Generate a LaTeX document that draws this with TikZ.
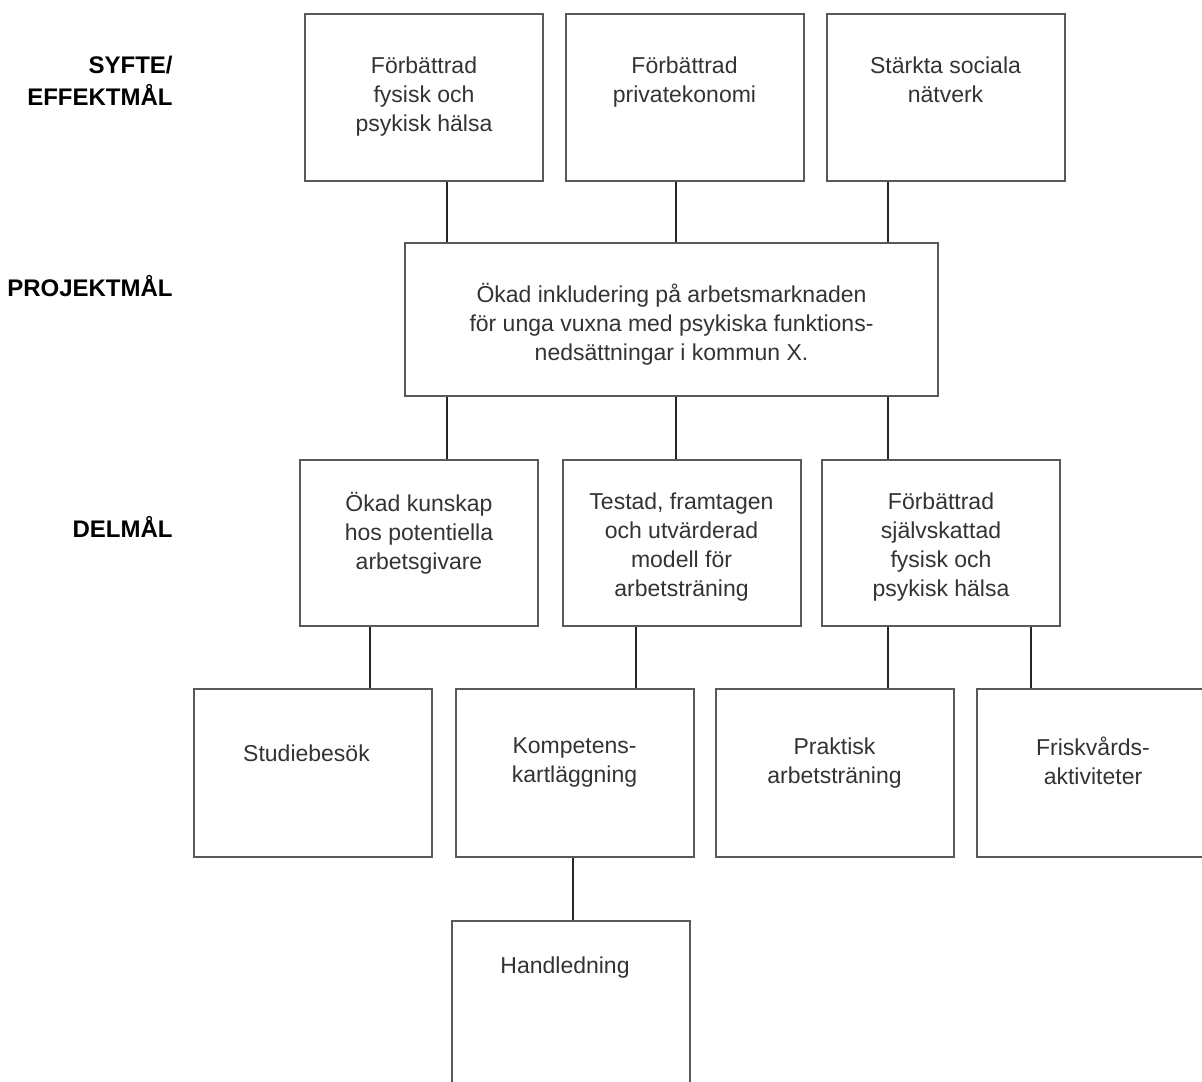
\documentclass[tikz,border=0pt]{standalone}
\usepackage{fontspec}
\setmainfont{Liberation Sans}

\tikzset{
    goalbox/.style={draw=black!65, line width=1pt, minimum width=119pt, minimum height=83.5pt, inner sep=0pt},
    boxtext/.style={anchor=north, align=center, inner sep=0pt, text=black!80, font=\fontsize{11.5}{14.5}\selectfont},
    levellabel/.style={anchor=east, align=right, inner sep=0pt, font=\bfseries\fontsize{12}{16}\selectfont},
    link/.style={draw=black!85, line width=1.4pt}
}

\begin{document}
\begin{tikzpicture}[x=0.5pt, y=0.5pt]
        \useasboundingbox (0,0) rectangle (1202,1081);
        \clip (0,0) rectangle (1202,1081);

        % Level labels
        \node[levellabel] (lvlsyfte) at (173,1000) {SYFTE/\\EFFEKTMÅL};
        \node[levellabel] (lvlprojekt) at (173,795) {PROJEKTMÅL};
        \node[levellabel] (lvldelmal) at (173,554) {DELMÅL};

        % Effect goals
        \node[goalbox, label={[boxtext, yshift=-21.5pt]north:Förbättrad\\fysisk och\\psykisk hälsa}] (eff1) at (424,983.5) {};
        \node[goalbox, label={[boxtext, yshift=-21.5pt]north:Förbättrad\\privatekonomi}] (eff2) at (684.5,983.5) {};
        \node[goalbox, label={[boxtext, yshift=-21.5pt]north:Stärkta sociala\\nätverk}] (eff3) at (945.5,983.5) {};

        % Project goal
        \node[goalbox, minimum width=266.5pt, minimum height=76.5pt, label={[boxtext, yshift=-20.5pt]north:Ökad inkludering på arbetsmarknaden\\för unga vuxna med psykiska funktions-\\nedsättningar i kommun X.}] (projekt) at (671.5,761.5) {};

        % Sub-goals
        \node[goalbox, minimum height=83pt, label={[boxtext, yshift=-16.5pt]north:Ökad kunskap\\hos potentiella\\arbetsgivare}] (del1) at (419,538) {};
        \node[goalbox, minimum height=83pt, label={[boxtext, yshift=-16.5pt]north:{Testad, framtagen\\och utvärderad\\modell för\\arbetsträning}}] (del2) at (681.5,538) {};
        \node[goalbox, minimum height=83pt, label={[boxtext, yshift=-16.5pt]north:Förbättrad\\självskattad\\fysisk och\\psykisk hälsa}] (del3) at (941,538) {};

        % Activities
        \node[goalbox, minimum height=84pt, label={[boxtext, yshift=-28pt, xshift=-3pt]north:Studiebesök}] (stud) at (312.5,308) {};
        \node[goalbox, minimum height=84pt, label={[boxtext, yshift=-24.5pt]north:Kompetens-\\kartläggning}] (komp) at (574.5,308) {};
        \node[goalbox, minimum height=84pt, label={[boxtext, yshift=-24.5pt]north:Praktisk\\arbetsträning}] (prakt) at (834.5,308) {};
        \node[goalbox, minimum width=116pt, minimum height=84pt, label={[boxtext, yshift=-24.5pt]north:Friskvårds-\\aktiviteter}] (frisk) at (1093,308) {};
        \node[goalbox, minimum height=84pt, label={[boxtext, yshift=-18pt, xshift=-3pt]north:Handledning}] (handl) at (571,76) {};

        % Effect goals to project goal
        \draw[link] ([xshift=11.5pt]eff1.south) -- ([xshift=11.5pt]eff1.south |- projekt.north);
        \draw[link] ([xshift=-4.25pt]eff2.south) -- ([xshift=-4.25pt]eff2.south |- projekt.north);
        \draw[link] ([xshift=-28.75pt]eff3.south) -- ([xshift=-28.75pt]eff3.south |- projekt.north);

        % Project goal to sub-goals
        \draw[link] ([xshift=14pt]del1.north |- projekt.south) -- ([xshift=14pt]del1.north);
        \draw[link] ([xshift=-2.75pt]del2.north |- projekt.south) -- ([xshift=-2.75pt]del2.north);
        \draw[link] ([xshift=-26.5pt]del3.north |- projekt.south) -- ([xshift=-26.5pt]del3.north);

        % Sub-goals to activities
        \draw[link] ([xshift=-24.5pt]del1.south) -- ([xshift=-24.5pt]del1.south |- stud.north);
        \draw[link] ([xshift=-22.75pt]del2.south) -- ([xshift=-22.75pt]del2.south |- komp.north);
        \draw[link] ([xshift=-26.5pt]del3.south) -- ([xshift=-26.5pt]del3.south |- prakt.north);
        \draw[link] ([xshift=45pt]del3.south) -- ([xshift=45pt]del3.south |- frisk.north);
        \draw[link] ([xshift=-0.75pt]komp.south) -- ([xshift=-0.75pt]komp.south |- handl.north);
\end{tikzpicture}
\end{document}
